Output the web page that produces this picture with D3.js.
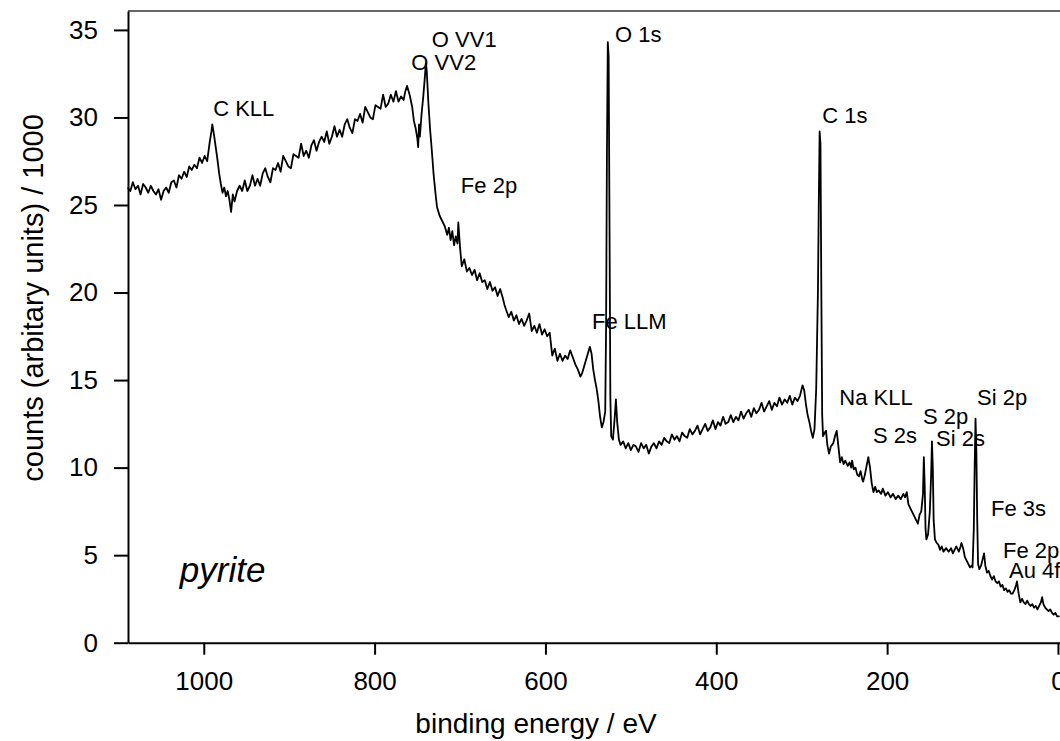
<!DOCTYPE html>
<html><head><meta charset="utf-8">
<script src="https://cdn.jsdelivr.net/npm/d3@7"></script>
<style>
body{margin:0;background:#fff}
svg{display:block}
text{font-family:"Liberation Sans",Arial,Helvetica,sans-serif;fill:#000}
</style>
</head><body>
<svg id="chart" width="1060" height="741"></svg>
<script>
// ---- data: [binding energy (eV), counts / 1000] ----
const spectrum = [
[1089,26.0],[1086,25.8],[1083,26.3],[1080,25.9],[1077,26.1],[1074,25.6],[1071,26.2],[1068,26.0],[1065,25.7],[1062,26.1],
[1059,25.8],[1056,25.6],[1053,25.9],[1050,25.3],[1047,25.8],[1044,26.0],[1041,25.7],[1038,26.3],[1035,26.4],[1032,26.0],
[1029,26.7],[1026,26.5],[1023,26.9],[1020,26.6],[1017,27.2],[1014,27.0],[1011,27.3],[1008,27.1],[1005,27.7],[1002,27.4],
[999,27.8],[996,27.5],[993,28.6],[991,29.2],[990,29.6],[988,29.0],[986,28.3],[984,27.6],[982,26.8],[980,26.2],
[978,25.7],[976,26.0],[974,25.5],[972,25.8],[970,25.3],[968,24.6],[966,25.6],[964,25.2],[961,25.8],
[958,26.1],[955,25.8],[952,26.4],[949,25.8],[946,26.1],[943,26.7],[940,26.1],[937,26.5],[934,26.1],[931,26.8],
[928,27.1],[925,26.6],[922,26.3],[919,27.1],[916,27.0],[913,27.4],[910,26.9],[907,27.8],[904,27.5],[901,27.2],
[898,27.1],[895,27.9],[892,27.8],[889,27.7],[886,28.5],[883,27.8],[880,28.1],[877,27.7],[874,28.4],[871,28.7],
[868,28.1],[865,28.6],[862,28.9],[859,28.6],[856,29.2],[853,28.5],[850,28.9],[847,29.5],[844,28.9],[841,29.3],
[838,28.9],[835,29.6],[832,29.9],[829,29.4],[826,29.1],[823,29.9],[820,29.8],[817,30.2],[814,29.7],[811,30.6],
[808,30.3],[805,30.0],[802,29.9],[799,30.7],[796,30.6],[793,30.5],[790,31.3],[787,30.6],[784,30.8],[781,31.3],
[778,30.9],[775,31.5],[772,30.9],[769,31.2],[766,31.0],[764,31.5],[762,31.8],
[759,31.3],[756,30.6],[754,29.8],[752,29.4],[750,28.8],[749,28.3],[748,29.6],[747,28.9],[745,30.2],[743,31.2],
[741,32.4],[740,33.1],[739,32.7],[737,30.8],[735,29.3],[733,28.1],[731,26.8],[729,25.8],[727,24.9],[724,24.4],
[721,24.1],[718,23.8],[715,23.3],[713,23.7],[711,23.0],[709,23.5],[707,22.7],[705,23.2],[703,22.8],[702,24.0],
[700,22.6],[698,21.5],[695,21.9],[692,21.2],[689,21.4],[686,21.0],[683,21.3],[680,20.7],[677,21.1],[674,20.6],
[671,20.7],[668,20.2],[665,20.6],[662,20.1],[659,20.3],[656,19.8],[653,20.2],[650,19.7],[648,19.3],[646,19.0],
[643,18.6],[640,18.9],[637,18.4],[634,18.7],[631,18.2],[628,18.5],[625,18.1],[622,18.4],[619,18.8],[616,17.8],
[613,18.1],[610,17.7],[607,18.2],[604,17.6],[601,17.9],[598,17.5],[595,17.7],[592,16.4],[589,16.8],[586,16.1],
[583,16.5],[580,16.1],[577,16.4],[574,16.2],[571,16.7],[568,16.3],[565,15.9],[562,15.6],[559,15.2],[557,15.4],
[554,15.9],[551,16.4],[548,16.9],[546,16.5],[544,15.6],[542,15.0],[540,14.5],[538,13.8],[536,12.9],[534,12.3],
[532,12.6],[530,13.2],[529,18.0],[528,28.0],[527,34.3],[526,33.5],[525,24.0],[524,14.0],[523,11.8],[521,11.6],
[519,12.8],[517.5,13.9],[516,12.6],[514,11.6],
[512,11.3],[509,11.5],[506,11.1],[503,11.4],[500,11.0],[497,11.3],[494,11.2],[491,10.9],[488,11.4],[485,11.1],
[482,11.3],[479,10.8],[476,11.2],[473,11.4],[470,11.1],[467,11.5],[464,11.3],[461,11.7],[458,11.5],[455,11.4],
[452,11.9],[449,11.6],[446,11.8],[443,11.5],[440,12.0],[437,11.8],[434,11.7],[431,12.2],[428,11.9],[425,12.1],
[422,12.4],[419,11.9],[416,12.2],[413,12.5],[410,12.1],[407,12.3],[404,12.7],[401,12.2],[398,12.6],[395,12.4],
[392,12.9],[389,12.5],[386,12.6],[383,13.0],[380,12.6],[377,12.9],[374,12.7],[371,13.2],[368,12.8],[365,13.1],
[362,13.3],[359,12.9],[356,13.4],[353,13.1],[350,13.3],[347,13.7],[344,13.2],[341,13.5],[338,13.8],[335,13.3],
[332,13.7],[329,13.5],[326,14.0],[323,13.6],[320,13.9],[317,13.7],[314,14.1],[311,13.6],[308,14.0],[305,13.8],
[302,14.1],[299,14.7],[297,14.4],[295,13.6],[293,13.0],[291,12.6],[289,12.1],
[287,11.7],[285,12.2],[283,14.5],[281,20.0],[280,25.0],[279,29.2],[278,28.5],[277,20.0],[276,13.0],[275,11.8],
[273,12.0],[271.5,12.1],[270,11.3],[268,10.8],[266,11.2],[263,11.4],[261,11.8],[259,12.1],[257,11.2],[255,10.3],
[253,10.6],[251,10.2],[249,10.4],[246,10.1],[244,10.3],[242,10.0],[241,10.4],[239,9.9],[237,10.0],[235,9.6],
[233,9.5],[231,9.8],[229,9.3],[228,9.2],[226,9.6],[224,10.1],[222,10.6],[220,10.0],[218,9.1],[216,8.6],
[214,8.9],[212,8.6],[210,8.7],[207,8.5],[205,8.8],[202,8.4],[199,8.6],[196,8.3],[193,8.5],[190,8.2],
[187,8.4],[184,8.2],[181,8.5],[179,8.3],[177,8.6],[175,7.9],[172,7.6],[169,7.3],[166,7.0],[164,6.8],
[162,7.3],[160,7.5],[158,8.5],[157,10.6],[156,9.0],[155,6.5],[154,5.9],[152,6.2],[150,7.5],[148.5,9.5],
[147.5,11.5],[146.5,10.0],[145.5,7.0],[144,5.9],[142,5.7],[140,5.6],[138,5.3],[136,5.5],[134,5.2],[131,5.4],
[128,5.2],[125,5.4],[123,5.1],[121,5.3],[119,5.5],[116,5.2],[114,5.5],[113,5.7],[111,5.4],[109,4.9],
[107,4.7],[105,4.5],[103,4.3],[101,4.4],[100,4.3],[98.5,6.5],[97.5,10.0],[96.5,12.8],[95.5,11.0],[94.5,7.0],
[93.5,4.5],[92,4.2],[90,4.4],[88,4.8],[86.5,5.1],[85,4.4],[83,4.0],[81,4.1],[79,3.8],[77,3.6],
[75,3.8],[73,3.5],[71,3.4],[69,3.5],[67,3.2],[65,3.3],[63,3.0],[61,3.1],[59,2.9],[57,3.0],
[55,2.8],[53,2.8],[51,3.0],[49,3.3],[48,3.5],[46,2.8],[44,2.3],[42,2.5],[40,2.3],[38,2.2],
[36,2.4],[34,2.2],[32,2.1],[30,2.2],[28,2.0],[26,2.1],[24,1.9],[22,2.1],[20,2.3],[18.5,2.6],
[17,2.2],[15,2.0],[13,1.9],[11,1.8],[9,1.9],[7,1.7],[5,1.6],[3,1.7],[1,1.5],[-2,1.5]
];
const xTicks = [1000, 800, 600, 400, 200, 0];
const yTicks = [0, 5, 10, 15, 20, 25, 30, 35];
const peakLabels = [
  {text:"C KLL",  e:989,  v:30.1},
  {text:"O VV1",  e:733,  v:34.0},
  {text:"O VV2",  e:757,  v:32.7},
  {text:"O 1s",   e:518.6,v:34.3},
  {text:"Fe 2p",  e:699,  v:25.7},
  {text:"C 1s",   e:276,  v:29.7},
  {text:"Fe LLM", e:545.5,v:17.9},
  {text:"Na KLL", e:256,  v:13.6},
  {text:"S 2s",   e:216.5,v:11.4},
  {text:"S 2p",   e:158,  v:12.5},
  {text:"Si 2s",  e:142.7,v:11.25},
  {text:"Si 2p",  e:94.7, v:13.6},
  {text:"Fe 3s",  e:78.3, v:7.25},
  {text:"Fe 2p",  e:64.3, v:4.85},
  {text:"Au 4f",  e:57.2, v:3.7}
];
const sampleLabel = {text:"pyrite", e:1028, v:3.47};
const xTitle = "binding energy / eV";
const yTitle = "counts (arbitary units) / 1000";

// ---- drawing ----
const svg = d3.select("#chart");
const mLeft = 128, mRight = 1069.9, mTop = 11, mBottom = 642.7;
const x = d3.scaleLinear().domain([1088.7, -14]).range([mLeft, mRight]);
const y = d3.scaleLinear().domain([0, 36.08]).range([mBottom, mTop]);

// top frame line
svg.append("line").attr("x1", mLeft).attr("x2", mRight).attr("y1", mTop).attr("y2", mTop)
  .attr("stroke", "#333").attr("stroke-width", 1.5);

const xAxis = svg.append("g").attr("transform", `translate(0,${mBottom})`)
  .call(d3.axisBottom(x).tickValues(xTicks).tickSize(12).tickPadding(17).tickSizeOuter(0).tickFormat(d3.format("d")));
const yAxis = svg.append("g").attr("transform", `translate(${mLeft},0)`)
  .call(d3.axisLeft(y).tickValues(yTicks).tickSize(14).tickPadding(16).tickSizeOuter(0).tickFormat(d3.format("d")));
[xAxis, yAxis].forEach(g => {
  g.attr("font-family", null).attr("font-size", null);
  g.select(".domain").attr("stroke", "#000").attr("stroke-width", 2);
  g.selectAll(".tick line").attr("stroke", "#000").attr("stroke-width", 2);
  g.selectAll(".tick text").attr("font-size", 26).attr("fill", "#000");
});

svg.append("path").datum(spectrum)
  .attr("fill", "none").attr("stroke", "#000").attr("stroke-width", 1.8)
  .attr("stroke-linejoin", "round")
  .attr("d", d3.line().x(d => x(d[0])).y(d => y(d[1])));

svg.selectAll("text.peak").data(peakLabels).join("text").attr("class", "peak")
  .attr("x", d => x(d.e)).attr("y", d => y(d.v)).attr("font-size", 22).text(d => d.text);

svg.append("text").attr("x", x(sampleLabel.e)).attr("y", y(sampleLabel.v))
  .attr("font-size", 35).attr("font-style", "italic").text(sampleLabel.text);

svg.append("text").attr("x", 536).attr("y", 733).attr("text-anchor", "middle")
  .attr("font-size", 28).text(xTitle);
svg.append("text").attr("transform", "translate(43,298) rotate(-90)").attr("text-anchor", "middle")
  .attr("font-size", 29).text(yTitle);
</script>
</body></html>
